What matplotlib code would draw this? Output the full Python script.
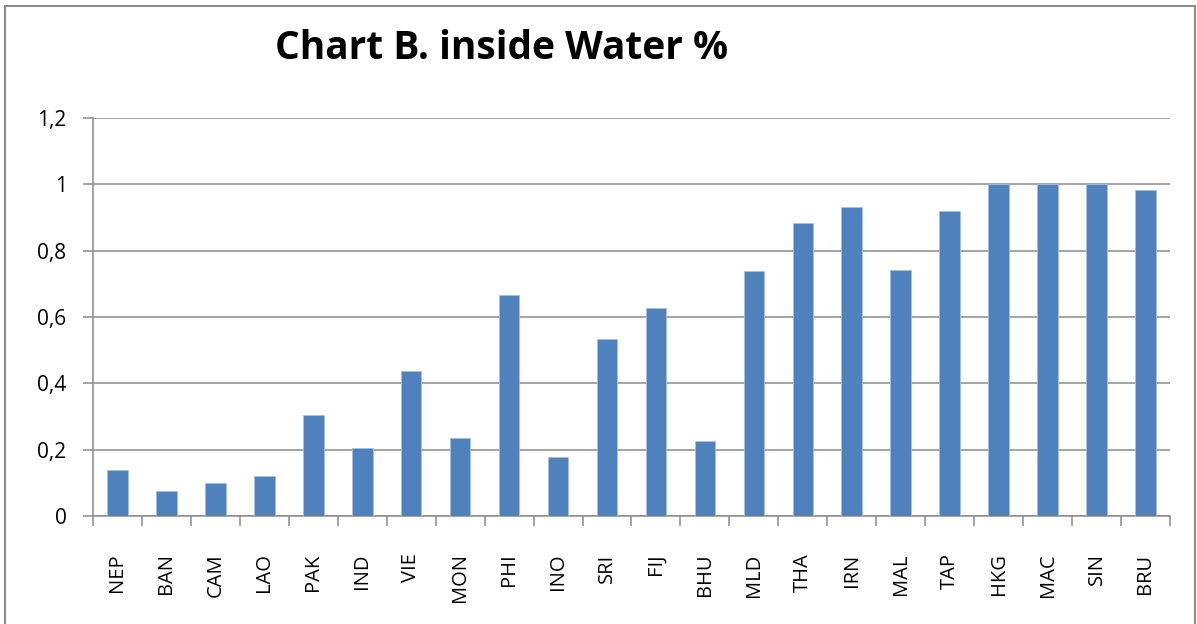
import matplotlib
matplotlib.use("Agg")
from matplotlib import pyplot as plt
from matplotlib.patches import Rectangle

countries = ["NEP", "BAN", "CAM", "LAO", "PAK", "IND", "VIE", "MON", "PHI", "INO", "SRI",
             "FIJ", "BHU", "MLD", "THA", "IRN", "MAL", "TAP", "HKG", "MAC", "SIN", "BRU"]
water_share = [0.14, 0.075, 0.098, 0.121, 0.305, 0.206, 0.436, 0.236, 0.665, 0.179, 0.534,
               0.627, 0.225, 0.738, 0.882, 0.932, 0.743, 0.920, 1.0, 1.0, 1.0, 0.982]
y_ticks = [0, 0.2, 0.4, 0.6, 0.8, 1.0, 1.2]
y_labels = ["0", "0,2", "0,4", "0,6", "0,8", "1", "1,2"]

plt.rcParams['font.family'] = ['Open Sans', 'DejaVu Sans']

fig = plt.figure(figsize=(11.97, 6.24), dpi=100)
ax = fig.add_axes([0.0777, 0.1731, 0.8997, 0.6378])

# chart border like the excel chart area
fig.patches.append(Rectangle((0.004, -0.01), 0.994, 1.0, transform=fig.transFigure,
                             fill=False, edgecolor='#8c8c8c', linewidth=1.5))

x = list(range(len(countries)))
ax.bar(x, water_share, width=0.42, color='#4f81bd', edgecolor='#a8c0e0', linewidth=0.6, zorder=3)

ax.set_xlim(-0.5, len(countries) - 0.5)
ax.set_ylim(0, 1.2)
ax.set_yticks(y_ticks)
ax.set_yticklabels(y_labels)
ax.yaxis.grid(True, color='#8c8c8c', linewidth=1.1, zorder=0)

# category boundaries get the tick marks, labels sit in between
ax.set_xticks([i - 0.5 for i in range(len(countries) + 1)], minor=False)
ax.set_xticklabels([])
ax.set_xticks(x, minor=True)
ax.set_xticklabels(countries, minor=True, rotation=90, fontsize=14.5)
ax.tick_params(axis='x', which='major', length=7, color='#8c8c8c', width=1.1)
ax.tick_params(axis='x', which='minor', length=0, pad=27)
ax.tick_params(axis='y', length=7, color='#8c8c8c', width=1.1, labelsize=15, pad=12)

for side in ['top', 'right']:
    ax.spines[side].set_visible(False)
for side in ['left', 'bottom']:
    ax.spines[side].set_color('#8c8c8c')
    ax.spines[side].set_linewidth(1.1)

fig.text(0.419, 0.922, "Chart B. inside Water %", ha='center', va='center',
         fontsize=28, fontweight='bold')

fig.savefig("out.png", dpi=100)
